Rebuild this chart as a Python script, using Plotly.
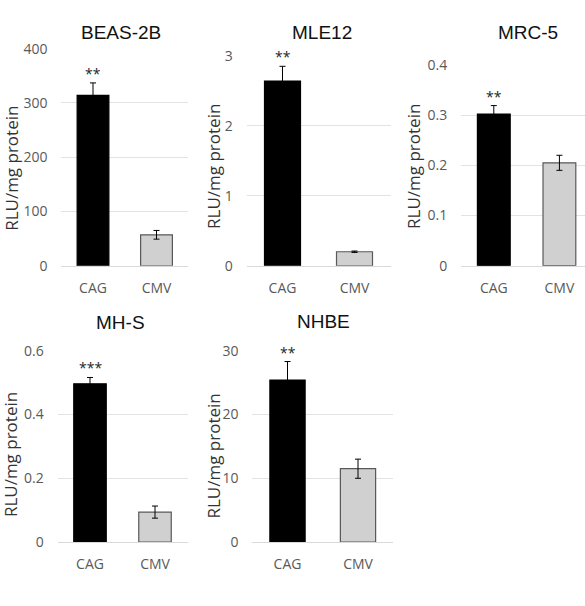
import plotly.graph_objects as go

W, H = 585, 606

categories = ["CAG", "CMV"]
panel_titles = ["BEAS-2B", "MLE12", "MRC-5", "MH-S", "NHBE"]
values = [
    [314, 57],
    [2.64, 0.20],
    [0.302, 0.205],
    [0.496, 0.094],
    [25.4, 11.5],
]
errors = [
    [23, 8],
    [0.21, 0.01],
    [0.017, 0.015],
    [0.02, 0.019],
    [2.9, 1.5],
]
stars = ["**", "**", "**", "***", "**"]
y_ranges = [[0, 400], [0, 3], [0, 0.4], [0, 0.6], [0, 30]]
y_ticks = [
    [0, 100, 200, 300, 400],
    [0, 1, 2, 3],
    [0, 0.1, 0.2, 0.3, 0.4],
    [0, 0.2, 0.4, 0.6],
    [0, 10, 20, 30],
]
y_ticktext = [
    ["0", "100", "200", "300", "400"],
    ["0", "1", "2", "3"],
    ["0", "0.1", "0.2", "0.3", "0.4"],
    ["0", "0.2", "0.4", "0.6"],
    ["0", "10", "20", "30"],
]
y_title = "RLU/mg protein"

# pixel layout (left, right, top, bottom) of each plot area
boxes = [
    (61.25, 188.25, 40, 264),
    (246.5, 390.5, 47.3, 264),
    (461.0, 585.0, 56.7, 264),
    (57.5, 187.5, 351.7, 549.3),
    (252.25, 393.25, 351.7, 549.3),
]
x_ranges = [[-0.5, 1.5], [-0.5, 1.5], [-0.5, 1.39], [-0.5, 1.5], [-0.5, 1.5]]
title_pos = [(121, 23), (322, 23), (528, 23), (121, 323), (323, 322)]
ytitle_pos = [(12, 164), (214, 162), (414, 162), (10.5, 459), (214, 461)]

FONT = "Open Sans"
TITLE_FONT = "Liberation Sans"

fig = go.Figure()
annotations = []
layout = {}
for i in range(5):
    sfx = "" if i == 0 else str(i + 1)
    xa, ya = "x" + sfx, "y" + sfx
    fig.add_trace(go.Bar(
        x=categories, y=values[i],
        xaxis=xa, yaxis=ya,
        width=0.5,
        marker=dict(color=["#000000", "#d0d0d0"],
                    line=dict(color=["#000000", "#595959"], width=1.2)),
        error_y=dict(type="data", array=errors[i], visible=True,
                     color="#000000", thickness=1, width=3),
        showlegend=False,
    ))
    l, r, t, b = boxes[i]
    layout["xaxis" + sfx] = dict(
        domain=[l / W, r / W], anchor=ya, range=x_ranges[i],
        type="category", showgrid=False, zeroline=False,
        showline=True, linecolor="#d9d9d9", linewidth=1,
        ticks="outside", ticklen=9, tickcolor="rgba(0,0,0,0)",
        tickfont=dict(family=FONT, size=14, color="#595959"),
        fixedrange=True,
    )
    layout["yaxis" + sfx] = dict(
        domain=[1 - b / H, 1 - t / H], anchor=xa, range=y_ranges[i],
        tickvals=y_ticks[i], ticktext=y_ticktext[i],
        showgrid=True, gridcolor="#e3e3e3", gridwidth=1,
        zeroline=False, showline=False,
        ticks="outside", ticklen=10, tickcolor="rgba(0,0,0,0)",
        tickfont=dict(family=FONT, size=14, color="#595959"),
        fixedrange=True,
    )
    tx, ty = title_pos[i]
    annotations.append(dict(
        text=panel_titles[i], x=tx / W, y=1 - ty / H, xref="paper", yref="paper",
        xanchor="center", yanchor="middle", showarrow=False,
        font=dict(family=TITLE_FONT, size=19, color="#111111"),
    ))
    yx, yy = ytitle_pos[i]
    annotations.append(dict(
        text=y_title, x=yx / W, y=1 - yy / H, xref="paper", yref="paper",
        xanchor="center", yanchor="middle", showarrow=False, textangle=-90,
        font=dict(family=FONT, size=17, color="#333333"),
    ))
    annotations.append(dict(
        text=stars[i], x=categories[0], y=values[i][0] + errors[i][0],
        xref=xa, yref=ya, xanchor="center", yanchor="bottom",
        showarrow=False, yshift=-2,
        font=dict(family=FONT, size=14, color="#262626"),
    ))

fig.update_layout(
    width=W, height=H,
    margin=dict(l=0, r=0, t=0, b=0),
    paper_bgcolor="white", plot_bgcolor="white",
    bargap=0.5,
    annotations=annotations,
    **layout,
)

fig.write_html("out.html")
